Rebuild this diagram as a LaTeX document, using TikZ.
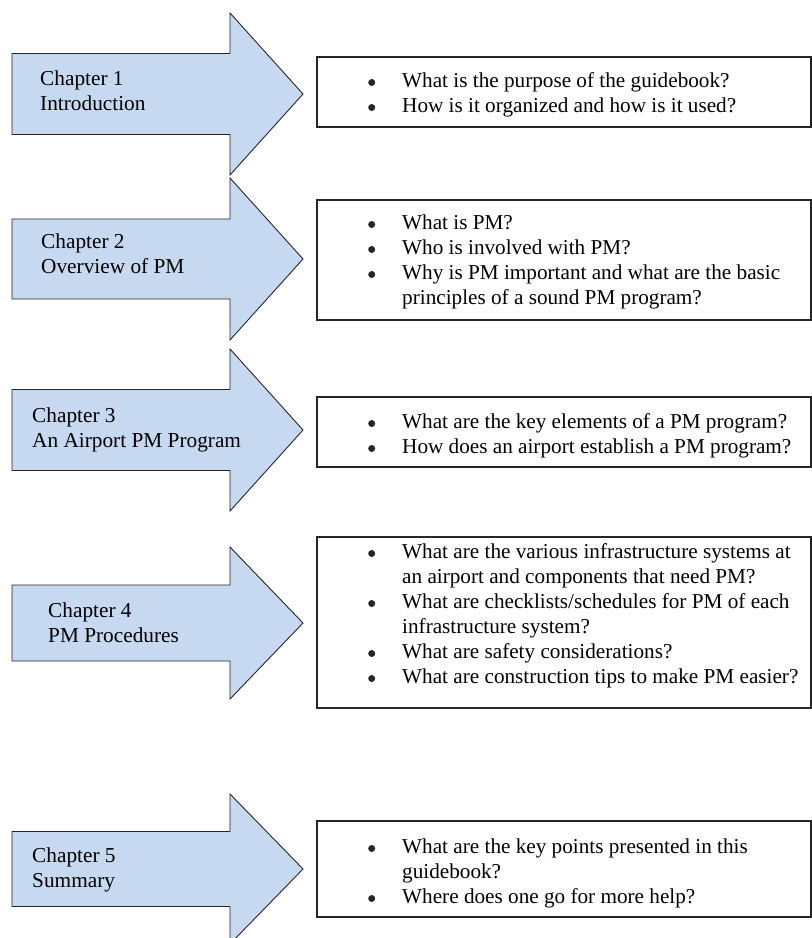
\documentclass[tikz,border=0pt]{standalone}
\usepackage{fontspec}
\setmainfont{Liberation Serif}

\definecolor{chapblue}{HTML}{C6D9F1}
\tikzset{
    chapter/.style={fill=chapblue, draw=black!85, line width=0.9pt},
    qbox/.style={draw=black!85, line width=1.1pt, minimum width=494pt, inner sep=0pt},
    chaptext/.style={anchor=base west, inner sep=0pt, font=\fontsize{21.3}{25}\selectfont},
    qtext/.style={anchor=base west, inner sep=0pt, font=\fontsize{21.2}{25}\selectfont}
}
\newcommand{\qbullet}{\tikz[baseline=-4.5pt]\fill[black!85] (0,0) circle (3.5pt);}
\newcommand{\qlist}[1]{\begin{tabular}[t]{@{}p{34pt}@{}l@{}}#1\end{tabular}}

\begin{document}
\begin{tikzpicture}[x=1pt, y=-1pt]
    \useasboundingbox (0, 0) rectangle (812, 938);
    \foreach \c/\b/\h in {94/40.5/81, 259/40/81, 430/40.5/81, 623/38/76, 869/37.5/75} {
        \draw[chapter]
            (12, \c-\b) -- (230, \c-\b) -- (230, \c-\h) -- (303, \c)
            -- (230, \c+\h) -- (230, \c+\b) -- (12, \c+\b) -- cycle;
    }
    \node[chaptext] (chap1) at (40, 85) {\begin{tabular}[t]{@{}l@{}}Chapter 1\\Introduction\end{tabular}};
    \node[chaptext] (chap2) at (41, 248) {\begin{tabular}[t]{@{}l@{}}Chapter 2\\Overview of PM\end{tabular}};
    \node[chaptext] (chap3) at (32, 422) {\begin{tabular}[t]{@{}l@{}}Chapter 3\\An Airport PM Program\end{tabular}};
    \node[chaptext] (chap4) at (48, 617) {\begin{tabular}[t]{@{}l@{}}Chapter 4\\PM Procedures\end{tabular}};
    \node[chaptext] (chap5) at (32, 862) {\begin{tabular}[t]{@{}l@{}}Chapter 5\\Summary\end{tabular}};

    \node[qbox, minimum height=70pt] (box1) at (564, 92) {};
    \node[qbox, minimum height=120pt] (box2) at (564, 260) {};
    \node[qbox, minimum height=70pt] (box3) at (564, 432) {};
    \node[qbox, minimum height=171pt] (box4) at (564, 622.5) {};
    \node[qbox, minimum height=96pt] (box5) at (564, 869) {};

    \node[qtext] (q1) at (368, 87) {\qlist{
        \qbullet & What is the purpose of the guidebook?\\
        \qbullet & How is it organized and how is it used?}};
    \node[qtext] (q2) at (368, 229) {\qlist{
        \qbullet & What is PM?\\
        \qbullet & Who is involved with PM?\\
        \qbullet & Why is PM important and what are the basic\\
        & principles of a sound PM program?}};
    \node[qtext] (q3) at (368, 428) {\qlist{
        \qbullet & What are the key elements of a PM program?\\
        \qbullet & How does an airport establish a PM program?}};
    \node[qtext] (q4) at (368, 558) {\qlist{
        \qbullet & What are the various infrastructure systems at\\
        & an airport and components that need PM?\\
        \qbullet & What are checklists/schedules for PM of each\\
        & infrastructure system?\\
        \qbullet & What are safety considerations?\\
        \qbullet & What are construction tips to make PM easier?}};
    \node[qtext] (q5) at (368, 853) {\qlist{
        \qbullet & What are the key points presented in this\\
        & guidebook?\\
        \qbullet & Where does one go for more help?}};
\end{tikzpicture}
\end{document}
